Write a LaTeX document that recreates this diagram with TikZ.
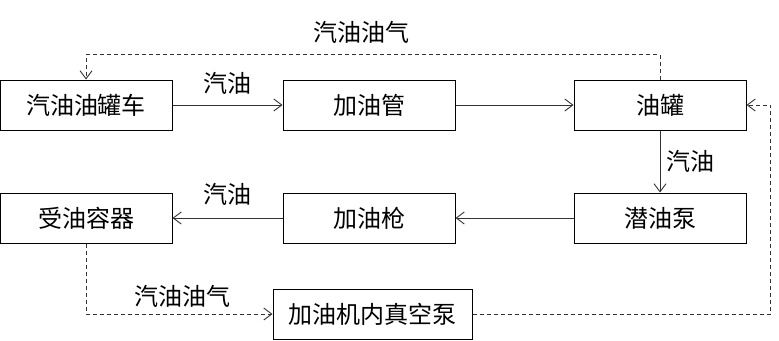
\documentclass[tikz,border=0pt]{standalone}
\usepackage{fontspec}
\newfontfamily\cjk{Noto Sans CJK SC}
\usetikzlibrary{arrows.meta,positioning}

\begin{document}
\begin{tikzpicture}[
x=1pt,y=1pt,
node distance=110pt,
box/.style={
draw,
line width=1pt,
minimum width=172pt,
minimum height=50pt,
inner sep=0pt,
align=center,
font=\cjk\fontsize{24}{27}\selectfont
},
lbl/.style={inner sep=0pt,font=\cjk\fontsize{24}{27}\selectfont},
flow/.style={-{Straight Barb[length=8pt,width=12pt]},line width=0.9pt,draw=black!80},
vapor/.style={flow,dash pattern=on 4pt off 3pt}
]
\useasboundingbox (0,0) rectangle (779,-340);

\node[box] (tanker) at (86,-105) {汽油油罐车};

\node[box,right=of tanker] (pipe) {加油管};

\node[box,right=118pt of pipe] (tank) {油罐};

\node[box,below=62pt of tank] (pump) {潜油泵};

\node[box,left=118pt of pump] (nozzle) {加油枪};

\node[box,left=of nozzle] (receiver) {受油容器};

\node[box,minimum width=199pt] (vacuum) at (372.5,-314) {加油机内真空泵};

\draw[flow] (tanker) -- node[lbl,above=10pt] {汽油} (pipe);
\draw[flow] (pipe) -- (tank);
\draw[flow] (tank) -- node[lbl,right=6pt] {汽油} (pump);
\draw[flow] (pump) -- (nozzle);
\draw[flow] (nozzle) -- node[lbl,above=12pt] {汽油} (receiver);

\draw[vapor] (tank.north) -- ++(0,25) -| node[lbl,pos=0.26,above=11pt] {汽油油气} (tanker.north);
\draw[vapor] (receiver.south) |- node[lbl,pos=0.76,above=6pt] {汽油油气} (vacuum.west);
\draw[vapor] (vacuum.east) -- ++(298,0) |- (tank.east);

\end{tikzpicture}
\end{document}
